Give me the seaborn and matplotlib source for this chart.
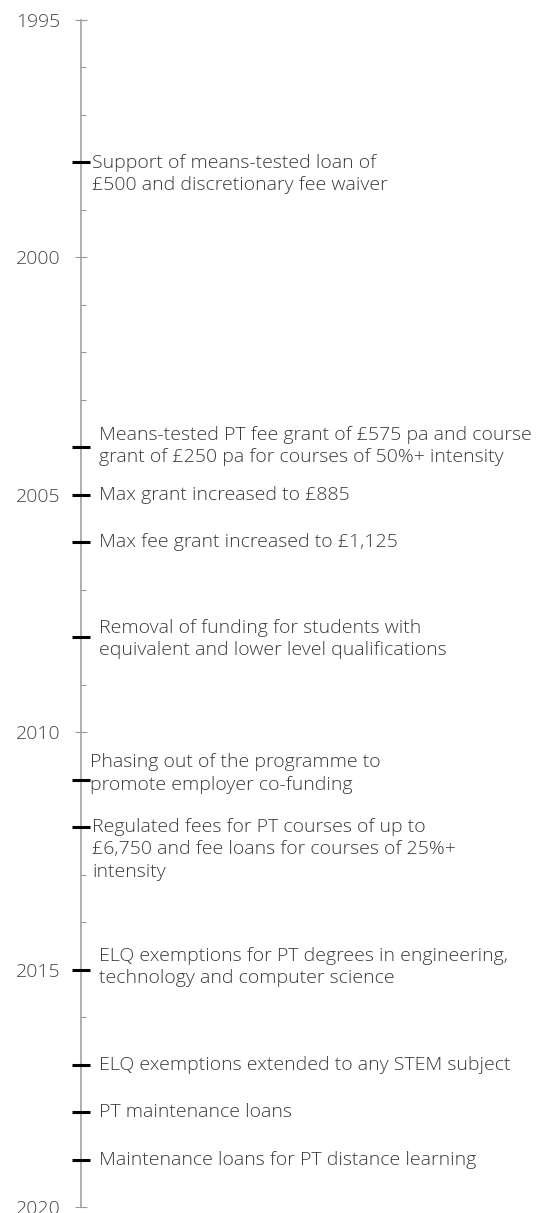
import numpy as np
import pandas as pd
import matplotlib
matplotlib.use("Agg")
import matplotlib.pyplot as plt
import seaborn as sns

# Datos del timeline
event_years = [1998, 2004, 2005, 2006, 2008, 2011, 2012, 2015, 2017, 2018, 2019]
event_labels = [
    "Support of means-tested loan of\n£500 and discretionary fee waiver",
    "Means-tested PT fee grant of £575 pa and course\ngrant of £250 pa for courses of 50%+ intensity",
    "Max grant increased to £885",
    "Max fee grant increased to £1,125",
    "Removal of funding for students with\nequivalent and lower level qualifications",
    "Phasing out of the programme to\npromote employer co-funding",
    "Regulated fees for PT courses of up to\n£6,750 and fee loans for courses of 25%+\nintensity",
    "ELQ exemptions for PT degrees in engineering,\ntechnology and computer science",
    "ELQ exemptions extended to any STEM subject",
    "PT maintenance loans",
    "Maintenance loans for PT distance learning",
]
year_start, year_end = 1995, 2020
major_years = list(range(year_start, year_end + 1, 5))
minor_years = list(range(year_start, year_end + 1))

# ajustes de posicion de los textos (px en x, años en y)
text_x = [92, 99, 99, 99, 99, 90, 92, 99, 99, 99, 99]
text_dy = [0.25, -0.02, 0, 0, 0.04, -0.13, 0.47, -0.06, 0, 0, 0]

events = pd.DataFrame({"year": event_years, "label": event_labels})
events["x"] = 81

sns.set_theme(style="ticks")
plt.rcParams["font.family"] = ["Open Sans", "DejaVu Sans"]

W, H = 543, 1213
fig = plt.figure(figsize=(W / 100, H / 100), dpi=100)
ax = fig.add_axes([0, 0, 1, 1])

px_per_year = (1207 - 20) / (year_end - year_start)
ax.set_xlim(0, W)
ax.set_ylim(year_end + (H - 1207) / px_per_year, year_start - 20 / px_per_year)

axis_col = "#9a9a9a"
for s in ["top", "right", "bottom"]:
    ax.spines[s].set_visible(False)
ax.spines["left"].set_position(("data", 80.5))
ax.spines["left"].set_bounds(year_start, year_end)
ax.spines["left"].set_color(axis_col)
ax.spines["left"].set_linewidth(1.1)

ax.set_yticks(major_years)
ax.set_yticks(minor_years, minor=True)
ax.set_yticklabels([str(y) for y in major_years], fontweight="light")
ax.set_xticks([])
ax.tick_params(axis="y", which="both", left=True, right=False)
ax.tick_params(axis="y", which="major", direction="inout", length=8, width=0.8,
               color=axis_col, pad=10.5, labelsize=14, labelcolor="#444444")
ax.tick_params(axis="y", which="minor", direction="in", length=3.6, width=0.8,
               color=axis_col)

sns.scatterplot(data=events, x="x", y="year", marker="_", s=168, color="black",
                linewidth=2.2, ax=ax, zorder=5, legend=False)

for i, row in events.iterrows():
    ax.text(text_x[i], row["year"] + text_dy[i], row["label"], ha="left", va="center",
            fontsize=14.0, color="#3a3a3a", linespacing=1.3, fontweight="light")

ax.set_xlabel("")
ax.set_ylabel("")
fig.savefig("out.png", dpi=100)
plt.close(fig)
